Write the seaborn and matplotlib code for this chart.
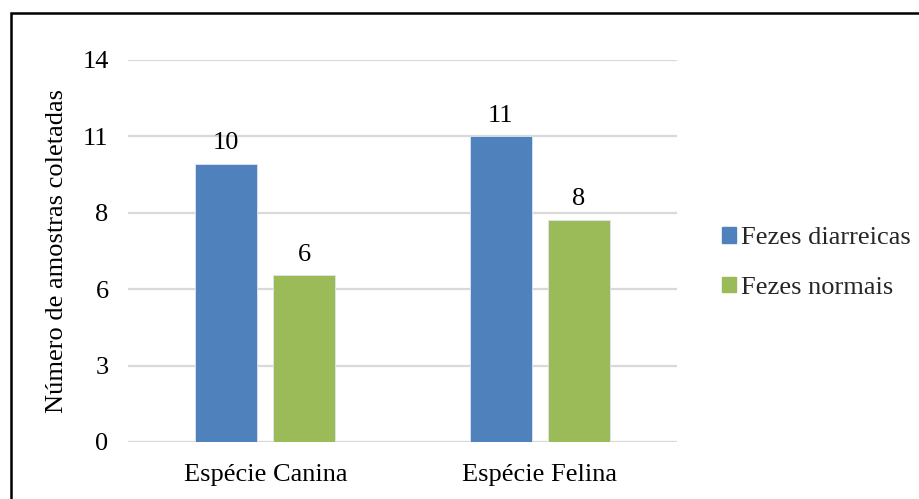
import matplotlib
matplotlib.use("Agg")
import matplotlib.pyplot as plt
import matplotlib.patches as mpatches
import seaborn as sns
import pandas as pd

# Data
species = ["Espécie Canina", "Espécie Felina"]
series_names = ["Fezes diarreicas", "Fezes normais"]
diarreicas = [10, 11]
normais = [6, 8]
y_ticks = [0, 2.75, 5.5, 8.25, 11, 13.75]
y_tick_labels = ["0", "3", "6", "8", "11", "14"]
y_label = "Número de amostras coletadas"
colors = ["#4F81BD", "#9BBB59"]

df = pd.DataFrame({
    "Espécie": species * 2,
    "Série": [series_names[0]] * 2 + [series_names[1]] * 2,
    "Valor": diarreicas + normais,
})

sns.set_theme(style="white")
plt.rcParams["font.family"] = ["Liberation Serif", "DejaVu Serif"]
FS = 19

fig = plt.figure(figsize=(9.19, 4.99), dpi=100)
ax = fig.add_axes([128 / 919, 1 - 442 / 499, (677 - 128) / 919, (442 - 60) / 499])

sns.barplot(data=df, x="Espécie", y="Valor", hue="Série", order=species,
            hue_order=series_names, palette=colors, width=0.567, gap=0.205,
            saturation=1, ax=ax, edgecolor="#dce6f2", linewidth=0.6)

ax.set_xlim(-0.5, 1.5)
ax.set_ylim(0, 13.75)
ax.set_yticks(y_ticks)
ax.set_yticklabels(y_tick_labels)
ax.yaxis.grid(True, color="#d9d9d9", linewidth=1.6)
ax.set_axisbelow(True)
for s in ax.spines.values():
    s.set_visible(False)
ax.tick_params(axis="both", length=0, labelsize=FS, colors="black")
ax.tick_params(axis="y", pad=14)
ax.tick_params(axis="x", pad=16)
ax.set_xlabel("")
ax.set_ylabel(y_label, fontsize=FS, color="black")
ax.yaxis.set_label_coords((68 - 128) / 549, 0.5)

# Value labels above bars
for cont in ax.containers:
    ax.bar_label(cont, fmt="%d", padding=7, fontsize=FS, color="black")

# Legend at the right
handles = [mpatches.Patch(color=c, label=n) for c, n in zip(colors, series_names)]
ax.get_legend().remove()
fig.legend(handles=handles, loc="center left", bbox_to_anchor=(722 / 919, 1 - 263 / 499),
           frameon=False, fontsize=FS, handlelength=0.53, handleheight=0.53,
           handletextpad=0.2, labelspacing=1.05, borderaxespad=0, borderpad=0)

# Outer frame
fig.patches.append(mpatches.Rectangle((11 / 919, -0.1), 1.2, 1 - 13 / 499 + 0.1,
                                      transform=fig.transFigure, fill=False,
                                      edgecolor="black", linewidth=1.8))

fig.savefig("out.png", dpi=100)
